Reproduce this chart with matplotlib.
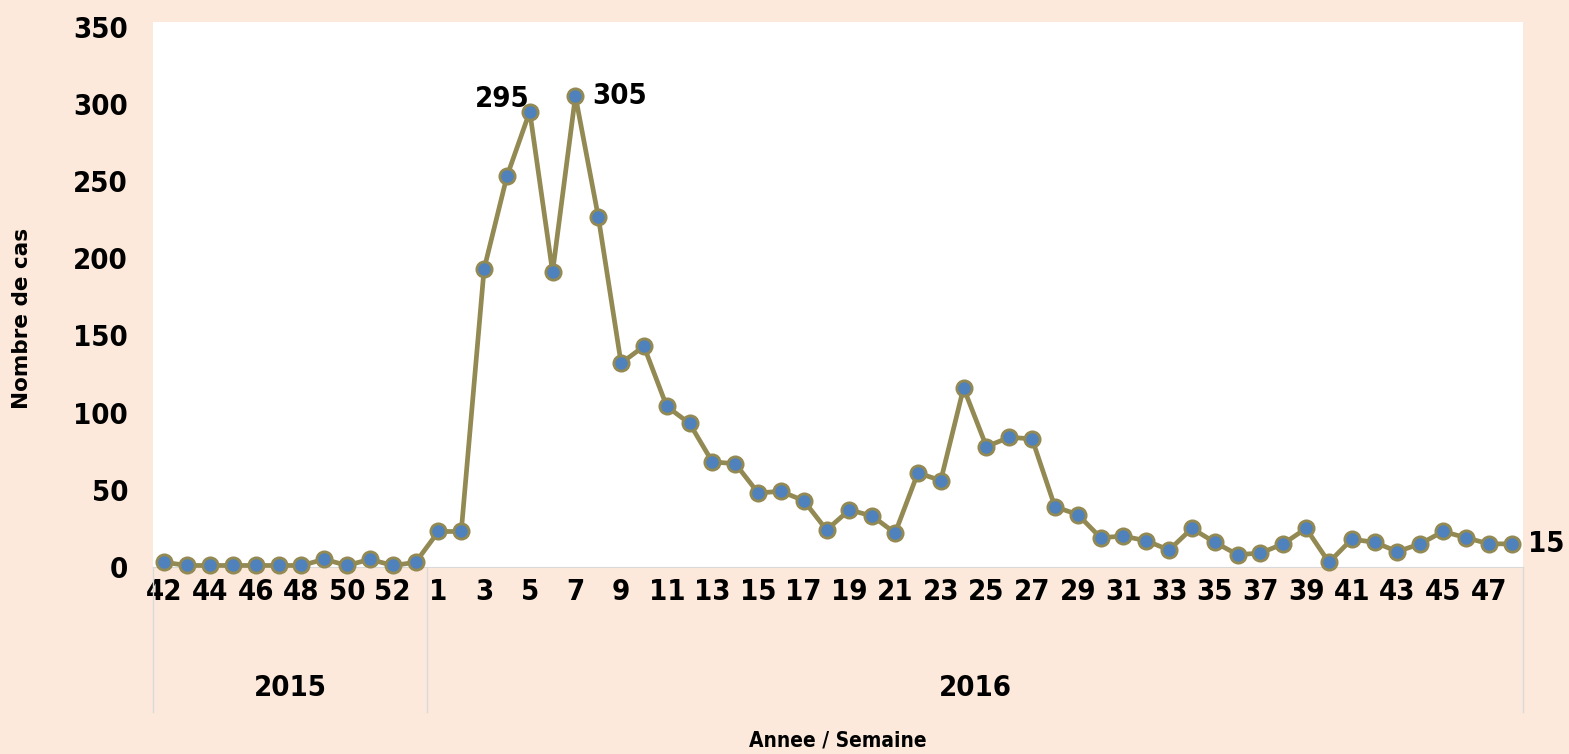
import numpy as np
import matplotlib.pyplot as plt

# Weekly case counts, weeks 42-53 of 2015 then weeks 1-48 of 2016
weeks_2015 = list(range(42, 54))
weeks_2016 = list(range(1, 49))
cases_2015 = [3, 1, 1, 1, 1, 1, 1, 5, 1, 5, 1, 3]
cases_2016 = [23, 23, 193, 253, 295, 191, 305, 227, 132, 143,
              104, 93, 68, 67, 48, 49, 43, 24, 37, 33,
              22, 61, 56, 116, 78, 84, 83, 39, 34, 19,
              20, 17, 11, 25, 16, 8, 9, 15, 25, 3,
              18, 16, 10, 15, 23, 19, 15, 15]
years = ["2015", "2016"]
labelled = {4: "295", 6: "305", 47: "15"}  # index in 2016 series

bg = "#FCE9DB"
line_col = "#938953"
marker_col = "#4F81BD"
sep_col = "#D9D9D9"
txt_kw = dict(fontsize=21, fontweight="bold", fontstretch="condensed")

weeks = weeks_2015 + weeks_2016
cases = cases_2015 + cases_2016
x = np.arange(len(weeks))
n15 = len(weeks_2015)

fig = plt.figure(figsize=(15.69, 7.54), dpi=100, facecolor=bg)
ax = fig.add_axes([153 / 1569, 187 / 754, 1370 / 1569, 545 / 754])
ax.set_facecolor("white")

ax.plot(x, cases, color=line_col, lw=3.4, marker="o", ms=11,
        mfc=marker_col, mec=line_col, mew=2, clip_on=False, zorder=3)

ax.set_xlim(-0.5, len(weeks) - 0.5)
ax.set_ylim(0, 353)
ax.set_yticks(np.arange(0, 351, 50))
ax.set_xticks(x[::2])
ax.set_xticklabels([str(w) for w in weeks[::2]])
ax.tick_params(axis="both", length=0, labelsize=21)
ax.tick_params(axis="y", pad=18)
ax.tick_params(axis="x", pad=8)
for lab in ax.get_xticklabels() + ax.get_yticklabels():
    lab.set_fontweight("bold")
    lab.set_fontstretch("condensed")

for s in ["top", "right", "left"]:
    ax.spines[s].set_visible(False)
ax.spines["bottom"].set_color(sep_col)

# year group separators and labels under the axis
tr = ax.get_xaxis_transform()
depth = -145 / 545
for xv in [-0.5, n15 - 0.5, len(weeks) - 0.5]:
    ax.plot([xv, xv], [0, depth], transform=tr, color=sep_col, lw=1, clip_on=False)
ax.text((n15 - 1) / 2, -121 / 545, years[0], transform=tr, ha="center", va="center", **txt_kw)
ax.text((n15 + len(weeks) - 1) / 2, -121 / 545, years[1], transform=tr, ha="center",
        va="center", **txt_kw)

# data labels
for i, txt in labelled.items():
    xi = n15 + i
    yi = cases_2016[i]
    if txt == "295":
        ax.annotate(txt, (xi, yi), xytext=(0, 9), textcoords="offset points",
                    ha="right", va="center", **txt_kw)
    else:
        ax.annotate(txt, (xi, yi), xytext=(12, 0), textcoords="offset points",
                    ha="left", va="center", annotation_clip=False, **txt_kw)

fig.text(22 / 1569, 1 - 318 / 754, "Nombre de cas", rotation=90, ha="center", va="center",
         fontsize=15.5, fontweight="bold")
fig.text(838 / 1569, 1 - 740 / 754, "Annee / Semaine", ha="center", va="center",
         fontsize=15, fontweight="bold", fontstretch="condensed")

fig.savefig("out.png", dpi=100, facecolor=bg)
